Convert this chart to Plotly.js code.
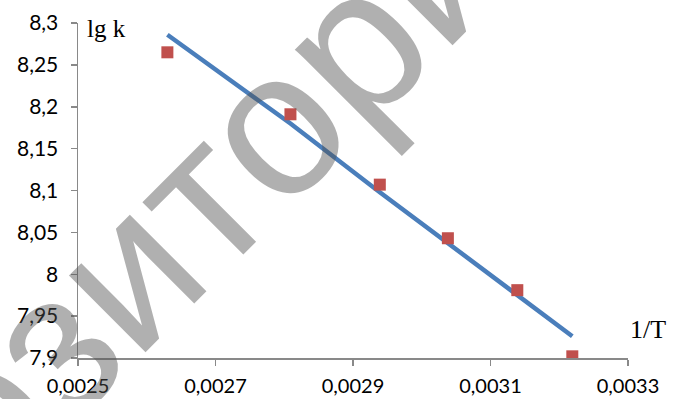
<!DOCTYPE html>
<html>
<head>
<meta charset="utf-8">
<script src="https://cdn.plot.ly/plotly-3.0.1.min.js"></script>
<style>
  html, body { margin: 0; padding: 0; background: #fff; }
  #chart { width: 673px; height: 399px; }
</style>
</head>
<body>
<div id="chart"></div>
<script>
// Experimental points: 1/T vs lg k
const invT = [0.00263, 0.002809, 0.002939, 0.003038, 0.003139, 0.003219];
const lgK = [8.265, 8.191, 8.107, 8.043, 7.981, 7.902];
// Trend line values read at the same 1/T positions
const trendX = [0.00263, 0.002809, 0.002939, 0.003038, 0.003139, 0.003219];
const trendY = [8.286, 8.180, 8.098, 8.037, 7.976, 7.926];
// Axis ticks
const xTicks = [0.0025, 0.0027, 0.0029, 0.0031, 0.0033];
const xTickText = ["0,0025", "0,0027", "0,0029", "0,0031", "0,0033"];
const yTicks = [7.9, 7.95, 8, 8.05, 8.1, 8.15, 8.2, 8.25, 8.3];
const yTickText = ["7,9", "7,95", "8", "8,05", "8,1", "8,15", "8,2", "8,25", "8,3"];
const yLabel = "lg k";
const xLabel = "1/T";
const watermark = "Репозиторий";

const traces = [
  {
    x: trendX, y: trendY, type: "scatter", mode: "lines",
    line: { color: "#4A7EBB", width: 4.5 },
    hoverinfo: "skip", showlegend: false
  },
  {
    x: invT, y: lgK, type: "scatter", mode: "markers",
    marker: { symbol: "square", size: 12, color: "#C0504D" },
    showlegend: false
  }
];

const axisCommon = {
  showgrid: false, zeroline: false,
  showline: true, linecolor: "#898989", linewidth: 1.5,
  ticks: "outside", ticklen: 6, tickcolor: "#898989", tickwidth: 1.5,
  tickfont: { family: "Lato, 'Open Sans', sans-serif", size: 21, color: "#000" },
  fixedrange: true
};

const layout = {
  width: 673, height: 399,
  margin: { l: 78, r: 45, t: 23, b: 41 },
  paper_bgcolor: "#fff", plot_bgcolor: "#fff",
  separators: ", ",
  xaxis: Object.assign({}, axisCommon, {
    range: [0.0025, 0.0033],
    tickmode: "array", tickvals: xTicks, ticktext: xTickText,
    tickfont: { family: "Lato, 'Open Sans', sans-serif", size: 20, color: "#000" },
    ticklabelstandoff: 3
  }),
  yaxis: Object.assign({}, axisCommon, {
    range: [7.9, 8.3],
    tickmode: "array", tickvals: yTicks, ticktext: yTickText,
    ticklabelstandoff: 8
  }),
  annotations: [
    {
      text: yLabel, xref: "paper", yref: "paper",
      x: 0.012, y: 1.03, xanchor: "left", yanchor: "top",
      showarrow: false,
      font: { family: "'Liberation Serif', 'Times New Roman', serif", size: 25, color: "#000" }
    },
    {
      text: xLabel, xref: "paper", yref: "paper",
      x: 1.0, y: 0.035, xanchor: "left", yanchor: "bottom",
      showarrow: false,
      font: { family: "'Liberation Serif', 'Times New Roman', serif", size: 26, color: "#000" }
    },
    {
      text: watermark, xref: "paper", yref: "paper",
      x: 0.08, y: 0.25, xanchor: "center", yanchor: "middle",
      showarrow: false, textangle: -45,
      font: { family: "'Liberation Sans', Arial, sans-serif", size: 205, color: "rgba(80,80,80,0.45)" }
    }
  ]
};

Plotly.newPlot("chart", traces, layout, { staticPlot: true, displayModeBar: false });
</script>
</body>
</html>
